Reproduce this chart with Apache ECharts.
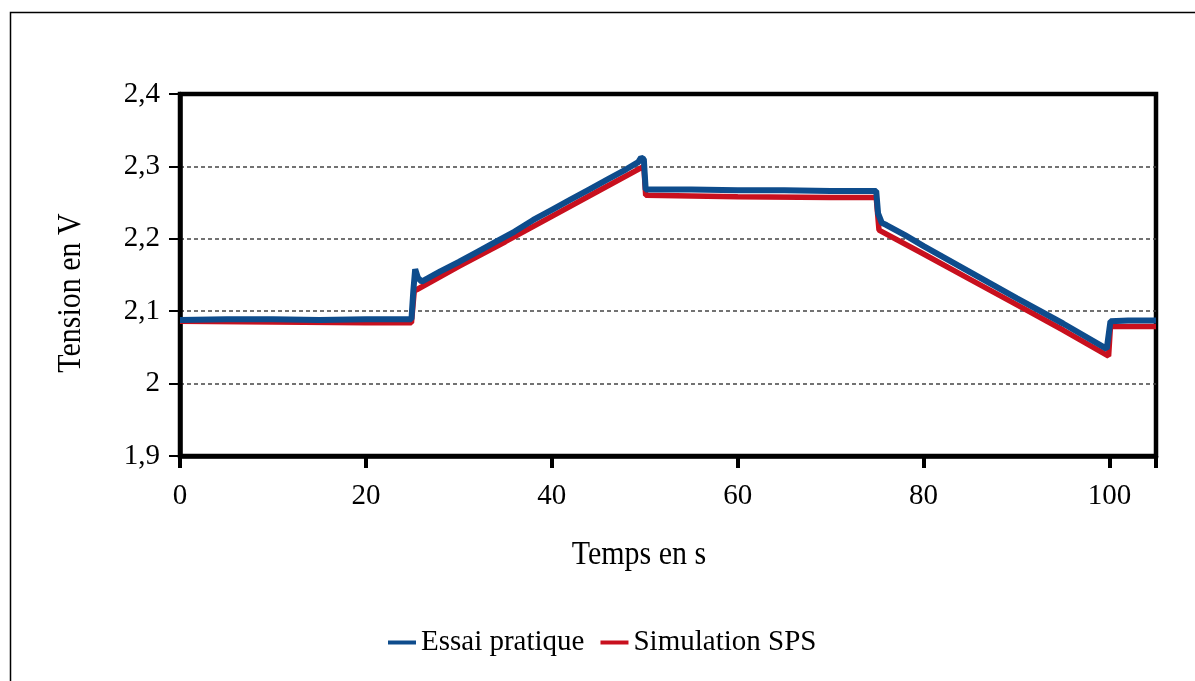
<!DOCTYPE html>
<html>
<head>
<meta charset="utf-8">
<script src="https://cdn.jsdelivr.net/npm/echarts@6/dist/echarts.min.js"></script>
<style>
html,body{margin:0;padding:0;background:#fff;}
#c{width:1195px;height:681px;}
</style>
</head>
<body>
<div id="c"></div>
<script>
// Essai pratique (blue)
var tBlue = [0, 5, 10, 15, 20, 24.9, 25.1, 25.3, 25.6, 26, 28, 30, 32, 34, 36, 38, 40, 42, 44, 46, 48, 49.3, 49.6, 49.9, 50.1, 55, 60, 65, 70, 74.9, 75.1, 75.5, 76, 78, 80, 85, 90, 95, 99.7, 99.9, 100.1, 102, 105];
var vBlue = [2.088, 2.089, 2.089, 2.088, 2.089, 2.089, 2.128, 2.158, 2.146, 2.141, 2.155, 2.168, 2.182, 2.196, 2.210, 2.226, 2.240, 2.254, 2.268, 2.282, 2.296, 2.306, 2.312, 2.310, 2.268, 2.268, 2.267, 2.267, 2.266, 2.266, 2.235, 2.222, 2.219, 2.205, 2.190, 2.154, 2.118, 2.083, 2.048, 2.046, 2.086, 2.087, 2.087];
// Simulation SPS (red)
var tRed = [0, 10, 20, 24.9, 25.2, 25.5, 30, 35, 40, 45, 49.9, 50.1, 60, 70, 74.9, 75.2, 80, 85, 90, 95, 99.9, 100.1, 105];
var vRed = [2.086, 2.085, 2.084, 2.084, 2.128, 2.130, 2.162, 2.196, 2.231, 2.266, 2.300, 2.260, 2.258, 2.257, 2.257, 2.212, 2.179, 2.144, 2.109, 2.074, 2.038, 2.079, 2.079];
var xTicks = [0, 20, 40, 60, 80, 100];
var yTicks = [1.9, 2.0, 2.1, 2.2, 2.3, 2.4];
var seriesNames = ['Essai pratique', 'Simulation SPS'];
var xTitle = 'Temps en s';
var yTitle = 'Tension en V';

function pairs(t, v) { return t.map(function (x, i) { return [x, v[i]]; }); }
function fmt(v) { return (Math.round(v * 10) / 10).toString().replace('.', ','); }

var FONT = 'Liberation Serif';
var chart = echarts.init(document.getElementById('c'), null, { renderer: 'canvas' });
chart.setOption({
  animation: false,
  backgroundColor: '#fff',
  grid: { left: 180, right: 39, top: 94, bottom: 225, show: true, borderColor: '#000', borderWidth: 4.5, backgroundColor: 'transparent' },
  legend: {
    top: 628, left: 388, padding: 0, itemWidth: 28, itemHeight: 4, itemGap: 16, icon: 'rect',
    textStyle: { fontFamily: FONT, fontSize: 29, color: '#000' },
    data: seriesNames
  },
  xAxis: {
    type: 'value', min: 0, max: 105, interval: 20,
    axisLine: { show: true, lineStyle: { color: '#000', width: 4.5 } },
    axisTick: { show: true, inside: false, length: 12, lineStyle: { color: '#000', width: 4 } },
    axisLabel: { fontFamily: FONT, fontSize: 29, color: '#000', margin: 26,
      formatter: function (v) { return xTicks.indexOf(v) >= 0 ? String(v) : ''; } },
    splitLine: { show: false }
  },
  yAxis: {
    type: 'value', min: 1.9, max: 2.4, interval: 0.1,
    axisLine: { show: true, lineStyle: { color: '#000', width: 4.5 } },
    axisTick: { show: true, inside: false, length: 11, lineStyle: { color: '#000', width: 2 } },
    axisLabel: { fontFamily: FONT, fontSize: 29, color: '#000', margin: 20, formatter: function (v) { return fmt(v); } },
    splitLine: { show: true, showMaxLine: false, showMinLine: false, lineStyle: { color: '#444', width: 1.5, type: [4, 3] } }
  },
  graphic: [
    { type: 'rect', left: 8, top: 10, shape: { width: 1220, height: 700 }, style: { fill: 'none', stroke: '#000', lineWidth: 1.5 }, silent: true, z: -1 },
    { type: 'text', x: 639, y: 555, scaleY: 1.1, style: { text: xTitle, font: '30px "Liberation Serif"', fill: '#000', align: 'center', verticalAlign: 'middle' } },
    { type: 'text', x: 71, y: 293, scaleY: 1.1, rotation: Math.PI / 2, style: { text: yTitle, font: '30px "Liberation Serif"', fill: '#000', align: 'center', verticalAlign: 'middle' } }
  ],
  series: [
    { name: seriesNames[0], type: 'line', data: pairs(tBlue, vBlue), showSymbol: false, z: 5,
      lineStyle: { color: '#0E4C8C', width: 6 }, itemStyle: { color: '#0E4C8C' } },
    { name: seriesNames[1], type: 'line', data: pairs(tRed, vRed), showSymbol: false, z: 4,
      lineStyle: { color: '#C8101E', width: 5.5 }, itemStyle: { color: '#C8101E' } }
  ]
});
</script>
</body>
</html>
